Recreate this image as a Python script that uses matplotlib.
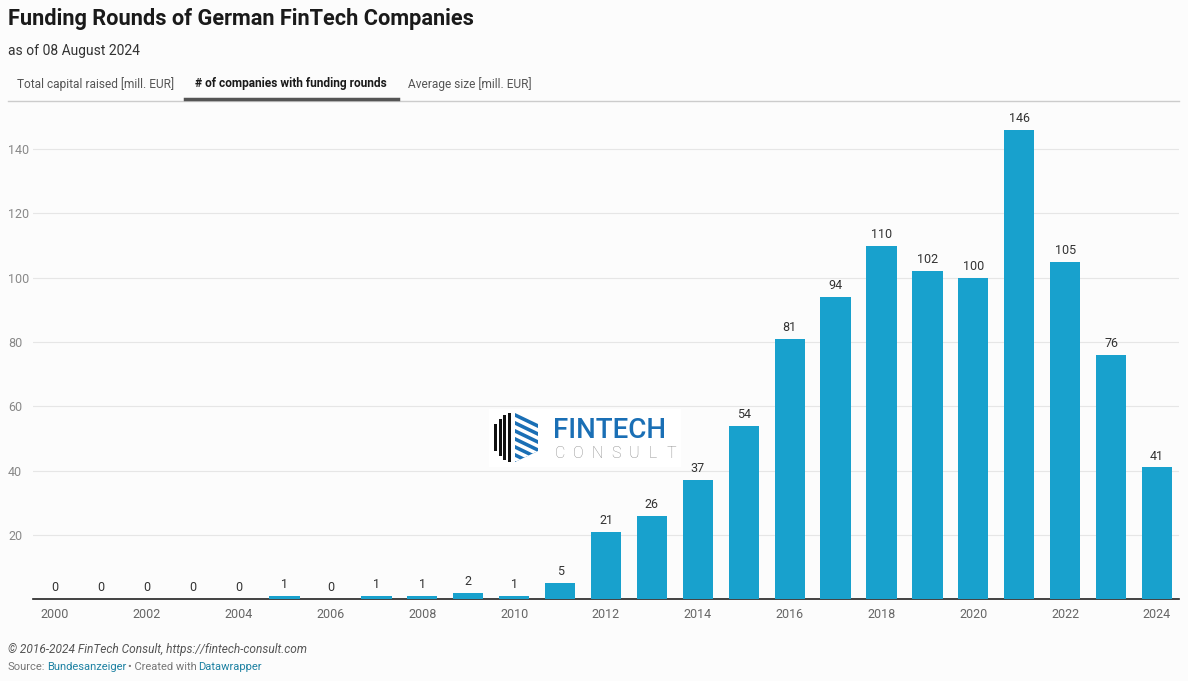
import matplotlib.pyplot as plt
from matplotlib.patches import Polygon, Rectangle

plt.rcParams['font.family'] = ['Roboto', 'DejaVu Sans']

years = list(range(2000, 2025))
counts = [0, 0, 0, 0, 0, 1, 0, 1, 1, 2, 1, 5, 21, 26, 37, 54, 81, 94, 110, 102, 100, 146, 105, 76, 41]
yticks = [20, 40, 60, 80, 100, 120, 140]
xtick_years = list(range(2000, 2025, 2))

W, H = 1188, 681
fig = plt.figure(figsize=(W / 100, H / 100), dpi=100, facecolor='#fcfcfc')

def fx(px):
    return px / W

def fy(py):
    return 1 - py / H

def poly(pts, color, z=5):
    p = Polygon([(fx(a), fy(b)) for a, b in pts], closed=True, facecolor=color,
                edgecolor='none', zorder=z)
    fig.add_artist(p)
    return p

# axes: x from 33 to 1179 px, y from 105 to 599 px
ax = fig.add_axes([fx(33), fy(599.3), fx(1179 - 33), (599.3 - 105) / H])
ax.set_facecolor('none')
ax.bar(range(len(years)), counts, width=0.66, color='#18a1cd', zorder=3)
for i, v in enumerate(counts):
    ax.text(i, v + 1.5, str(v), ha='center', va='bottom', fontsize=9, color='#333333')

ax.set_xlim(-0.48, len(years) - 0.52)
ax.set_ylim(0, 153.7)
ax.set_yticks(yticks)
ax.set_yticklabels([str(t) for t in yticks], fontsize=9, color='#888888', ha='left')
ax.tick_params(axis='y', length=0, pad=18)
ax.grid(axis='y', color='#e6e6e6', linewidth=0.8, zorder=0)
ax.set_xticks([y - 2000 for y in xtick_years])
ax.set_xticklabels([str(y) for y in xtick_years], fontsize=9, color='#666666')
ax.tick_params(axis='x', length=0, pad=6)
for s in ['top', 'right', 'left']:
    ax.spines[s].set_visible(False)
ax.spines['bottom'].set_color('#222222')
ax.spines['bottom'].set_linewidth(1.2)

# header
fig.text(fx(8), fy(19), 'Funding Rounds of German FinTech Companies', fontsize=15.7, fontweight='bold',
         color='#1a1a1a', va='center')
fig.text(fx(8), fy(51), 'as of 08 August 2024', fontsize=10, color='#333333', va='center')

# tabs
fig.text(fx(17), fy(84), 'Total capital raised [mill. EUR]', fontsize=8.6, color='#555555', va='center')
fig.text(fx(195), fy(84), '# of companies with funding rounds', fontsize=8.6, fontweight='bold',
         color='#1a1a1a', va='center')
fig.text(fx(408), fy(84), 'Average size [mill. EUR]', fontsize=8.6, color='#555555', va='center')
fig.add_artist(plt.Line2D([fx(8), fx(1179)], [fy(100.5), fy(100.5)], color='#cccccc', linewidth=1))
fig.add_artist(plt.Line2D([fx(185), fx(398)], [fy(99), fy(99)], color='#555555', linewidth=2.5))

# logo
fig.add_artist(Rectangle((fx(489), fy(467)), fx(192), 58 / H, facecolor='white', edgecolor='none',
                         zorder=4))
bar_tops = [424, 419, 415, 413]
bar_bots = [451, 456, 460, 462]
for k, x0 in enumerate([494, 498.7, 503.4, 508.1]):
    poly([(x0, bar_tops[k]), (x0 + 3, bar_tops[k]), (x0 + 3, bar_bots[k]), (x0, bar_bots[k])], '#111111')
hexhalf = poly([(515, 413), (538, 424), (538, 451), (515, 462)], '#1a6fb5')
for k in range(6):
    y0 = 417 + k * 8
    s = poly([(512, y0 - 1.5), (541, y0 + 12.5), (541, y0 + 16.5), (512, y0 + 2.5)], 'white', z=6)
    s.set_clip_path(hexhalf)
fig.text(fx(553), fy(430), 'FINTECH', fontsize=20, fontweight='medium', color='#1a6fb5', va='center',
         zorder=6)
for k, ch in enumerate('CONSULT'):
    fig.text(fx(560 + k * 18.5), fy(454), ch, fontsize=11.5, color='#8a8a8a', va='center',
             ha='center', zorder=6, fontweight='light')

# footer
fig.text(fx(8), fy(649), '\u00a9 2016-2024 FinTech Consult, https://fintech-consult.com', fontsize=8.6,
         style='italic', color='#555555', va='center')
fig.text(fx(8), fy(667), 'Source:', fontsize=8, color='#777777', va='center')
fig.text(fx(47), fy(667), 'Bundesanzeiger', fontsize=8, color='#1d81a2', va='center')
fig.text(fx(128), fy(667), '\u2022 Created with', fontsize=8, color='#777777', va='center')
fig.text(fx(198), fy(667), 'Datawrapper', fontsize=8, color='#1d81a2', va='center')

fig.savefig('out.png', dpi=100, facecolor=fig.get_facecolor())
